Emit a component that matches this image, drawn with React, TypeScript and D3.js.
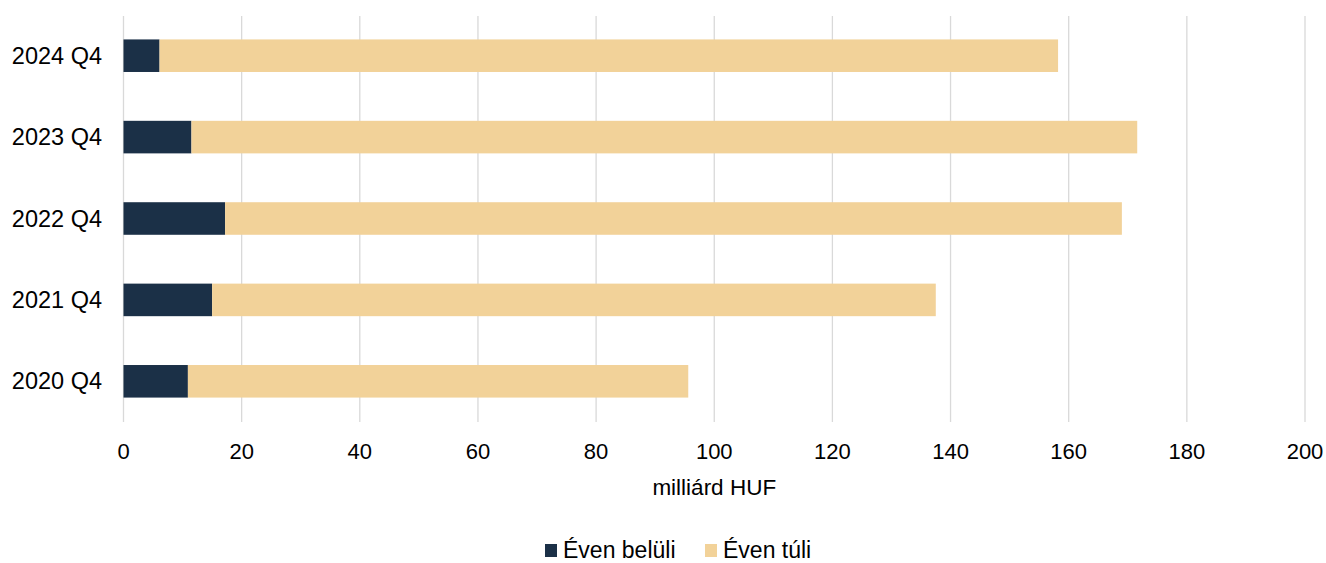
import React from "react";
import * as d3 from "d3";

const categories = ["2024 Q4", "2023 Q4", "2022 Q4", "2021 Q4", "2020 Q4"];
const evenBeluli = [6.1, 11.5, 17.2, 15.0, 10.9];
const evenTuli = [152.1, 160.1, 151.8, 122.5, 84.7];
const xTicks = [0, 20, 40, 60, 80, 100, 120, 140, 160, 180, 200];
const seriesNames = ["Éven belüli", "Éven túli"];
const colors = ["#1b3047", "#f2d299"];

const W = 1326;
const H = 563;
const FONT = "Arial, 'Liberation Sans', sans-serif";

export default function App() {
  const x = d3.scaleLinear().domain([0, 200]).range([123.5, 1305]);
  const y = d3
    .scaleBand()
    .domain(categories)
    .range([15, 422])
    .paddingInner(0.6)
    .paddingOuter(0.3);

  const stackData = categories.map((c, i) => ({ cat: c, a: evenBeluli[i], b: evenTuli[i] }));
  const stacked = d3.stack<any>().keys(["a", "b"])(stackData);

  return (
    <svg
      width={W}
      height={H}
      style={{ position: "absolute", left: 0, top: 0, background: "#fff" }}
      fontFamily={FONT}
    >
      {xTicks.map((t) => (
        <line
          key={t}
          x1={x(t)}
          x2={x(t)}
          y1={16}
          y2={422}
          stroke="#d9d9d9"
          strokeWidth={1.3}
        />
      ))}
      {stacked.map((s, si) =>
        s.map((d, i) => (
          <rect
            key={si + "-" + i}
            x={x(d[0])}
            y={y(categories[i])}
            width={x(d[1]) - x(d[0])}
            height={y.bandwidth()}
            fill={colors[si]}
          />
        ))
      )}
      {categories.map((c) => (
        <text
          key={c}
          x={102}
          y={(y(c) as number) + y.bandwidth() / 2}
          textAnchor="end"
          dominantBaseline="central"
          fontSize={23.5}
          fill="#000"
        >
          {c}
        </text>
      ))}
      {xTicks.map((t) => (
        <text key={t} x={x(t)} y={459} textAnchor="middle" fontSize={22} fill="#000">
          {t}
        </text>
      ))}
      <text x={x(100)} y={495} textAnchor="middle" fontSize={22.5} fill="#000">
        milliárd HUF
      </text>
      {seriesNames.map((n, i) => {
        const lx = i === 0 ? 545 : 705;
        return (
          <g key={n}>
            <rect x={lx} y={544} width={12} height={13} fill={colors[i]} />
            <text x={lx + 18} y={557.5} fontSize={23} fill="#000">
              {n}
            </text>
          </g>
        );
      })}
    </svg>
  );
}
